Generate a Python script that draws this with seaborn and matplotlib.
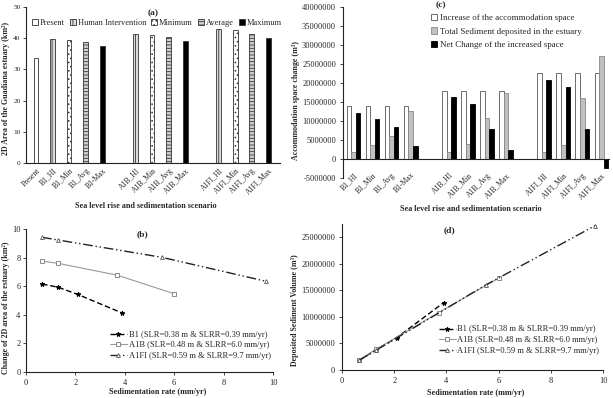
import numpy as np
import pandas as pd
import matplotlib
matplotlib.use("Agg")
import matplotlib.pyplot as plt
import seaborn as sns
from matplotlib.patches import Patch
from matplotlib.ticker import StrMethodFormatter

# ---------------- data ----------------
a_labels = ["Present", "B1_HI", "B1_Min", "B1_Avg", "B1-Max",
            "A1B_HI", "A1B_Min", "A1B_Avg", "A1B_Max",
            "A1FI_HI", "A1FI_Min", "A1FI_Avg", "A1FI_Max"]
a_area = [33.5, 39.7, 39.4, 38.9, 37.5,
          41.2, 41.0, 40.3, 39.0,
          42.9, 42.7, 41.5, 40.0]
a_type = ["Present", "Human Intervention", "Minimum", "Average", "Maximum",
          "Human Intervention", "Minimum", "Average", "Maximum",
          "Human Intervention", "Minimum", "Average", "Maximum"]
a_types = ["Present", "Human Intervention", "Minimum", "Average", "Maximum"]
a_order = a_labels[:5] + [" "] + a_labels[5:9] + ["  "] + a_labels[9:]

c_labels = ["B1_HI", "B1_Min", "B1_Avg", "B1-Max",
            "A1B_HI", "A1B_Min", "A1B_Avg", "A1B_Max",
            "A1FI_HI", "A1FI_Min", "A1FI_Avg", "A1FI_Max"]
c_order = c_labels[:4] + [" "] + c_labels[4:8] + ["  "] + c_labels[8:]
c_measures = ["Increase of the accommodation space",
              "Total Sediment deposited in the estuary",
              "Net Change of the increased space"]
c_increase = [13900000, 13900000, 13900000, 13900000,
              17800000, 17800000, 17800000, 17800000,
              22600000, 22600000, 22600000, 22600000]
c_sediment = [1800000, 3800000, 6100000, 12700000,
              1900000, 3900000, 10800000, 17300000,
              1800000, 3700000, 16000000, 27200000]
c_net = [12200000, 10500000, 8400000, 3500000,
         16200000, 14500000, 7900000, 2300000,
         20800000, 19000000, 7800000, -2400000]

series_names = ["B1 (SLR=0.38 m & SLRR=0.39 mm/yr)",
                "A1B (SLR=0.48 m & SLRR=6.0 mm/yr)",
                "A1FI (SLR=0.59 m & SLRR=9.7 mm/yr)"]
rate_B1 = [0.65, 1.3, 2.1, 3.9]
rate_A1B = [0.65, 1.3, 3.7, 6.0]
rate_A1FI = [0.65, 1.3, 5.5, 9.7]
area_B1 = [6.15, 5.93, 5.42, 4.12]
area_A1B = [7.75, 7.60, 6.77, 5.47]
area_A1FI = [9.42, 9.23, 8.02, 6.35]
vol_B1 = [1800000, 3800000, 6100000, 12700000]
vol_A1B = [1900000, 3900000, 10800000, 17300000]
vol_A1FI = [1800000, 3700000, 16000000, 27200000]

# ---------------- style ----------------
sns.set_theme(style="ticks")
plt.rcParams["font.family"] = ["Liberation Serif", "DejaVu Serif"]
plt.rcParams["axes.unicode_minus"] = False
plt.rcParams["hatch.linewidth"] = 0.6
plt.rcParams["axes.linewidth"] = 0.8
plt.rcParams["axes.edgecolor"] = "#222222"

TS = 6.0    # tick size
LS = 5.9    # axis title size

W, H = 613, 398
fig = plt.figure(figsize=(W / 100, H / 100), dpi=100)


def box(l, r, t, b):
    return [l / W, (H - b) / H, (r - l) / W, (b - t) / H]


axA = fig.add_axes(box(26, 280, 7, 163))
axC = fig.add_axes(box(343, 610, 7, 178))
axB = fig.add_axes(box(26, 273, 229, 372))
axD = fig.add_axes(box(342, 603, 224, 370))

for ax in (axA, axB, axC, axD):
    sns.despine(ax=ax)
    ax.tick_params(labelsize=TS, length=2.5, width=0.6, direction="out", pad=2.5)
axA.tick_params(axis="y", labelsize=5.3, length=2, pad=2)
axB.tick_params(axis="y", length=2, pad=2)

# ---------------- panel (a) ----------------
type_fc = {"Present": "white", "Human Intervention": "#dcdcdc",
           "Minimum": "white", "Average": "#d0d0d0", "Maximum": "black"}
type_hatch = {"Present": "", "Human Intervention": "||||",
              "Minimum": "....", "Average": "-----", "Maximum": ""}
df_a = pd.DataFrame({"scenario": a_labels, "area": a_area, "type": a_type})
sns.barplot(data=df_a, x="scenario", y="area", order=a_order, hue="type",
            hue_order=a_types, palette=[type_fc[t] for t in a_types],
            dodge=False, width=0.28, ax=axA, legend=False,
            edgecolor="#333333", linewidth=0.6, saturation=1)
lab2type = dict(zip(a_labels, a_type))
for p in axA.patches:
    idx = int(round(p.get_x() + p.get_width() / 2))
    if 0 <= idx < len(a_order) and a_order[idx] in lab2type:
        p.set_hatch(type_hatch[lab2type[a_order[idx]]])
axA.set_ylim(0, 50)
axA.set_yticks(range(0, 51, 10))
axA.set_xlim(-0.6, 14.7)
axA.set_xticks(range(len(a_order)))
axA.set_xticklabels(a_order, rotation=45, ha="right", rotation_mode="anchor",
                    fontsize=5.5)
axA.tick_params(axis="x", length=0, pad=2.5)
axA.set_xlabel("")
axA.set_ylabel("")
axA.text(0.5, 0.985, "(a)", transform=axA.transAxes, ha="center", va="top",
         fontsize=6.8, fontweight="bold")
hA = [Patch(facecolor=type_fc[t], edgecolor="#333333", hatch=type_hatch[t],
            linewidth=0.6) for t in a_types]
axA.legend(hA, a_types, loc="center", bbox_to_anchor=(0.515, 0.9), ncol=5,
           frameon=False, fontsize=6.0, handlelength=0.7, handleheight=0.7,
           handletextpad=0.25, columnspacing=0.6, borderpad=0, borderaxespad=0)

# ---------------- panel (c) ----------------
df_c = pd.DataFrame({
    "scenario": c_labels * 3,
    "value": c_increase + c_sediment + c_net,
    "measure": [c_measures[0]] * len(c_labels) + [c_measures[1]] * len(c_labels)
    + [c_measures[2]] * len(c_labels)})
c_fc = ["white", "#c0c0c0", "black"]
c_ec = ["#555555", "#8a8a8a", "black"]
sns.barplot(data=df_c, x="scenario", y="value", order=c_order, hue="measure",
            hue_order=c_measures, palette=c_fc, dodge=True, width=0.72,
            ax=axC, legend=False, linewidth=0.6, edgecolor="#555555",
            saturation=1)
for cont, ec in zip(axC.containers, c_ec):
    for p in cont:
        p.set_edgecolor(ec)
axC.set_ylim(-5000000, 40000000)
axC.set_yticks(range(-5000000, 40000001, 5000000))
axC.yaxis.set_major_formatter(StrMethodFormatter("{x:.0f}"))
axC.set_xlim(-0.55, 13.45)
axC.set_xticks(range(len(c_order)))
axC.set_xticklabels(c_order, rotation=45, ha="right", rotation_mode="anchor",
                    fontsize=5.5)
axC.tick_params(axis="x", length=0, pad=-5)
axC.spines["bottom"].set_visible(False)
axC.axhline(0, color="#222222", lw=0.8)
axC.set_xlabel("")
axC.set_ylabel("")
axC.text(0.365, 1.01, "(c)", transform=axC.transAxes, ha="center", va="center",
         fontsize=6.8, fontweight="bold")
hC = [Patch(facecolor=f, edgecolor=e, linewidth=0.6) for f, e in zip(c_fc, c_ec)]
axC.legend(hC, c_measures, loc="upper left", bbox_to_anchor=(0.33, 0.96),
           frameon=False, fontsize=6.4, handlelength=0.7, handleheight=0.7,
           handletextpad=0.3, labelspacing=0.6, borderpad=0, borderaxespad=0)

# ---------------- panels (b) and (d) ----------------
line_styles = [
    dict(color="black", linestyle=(0, (4, 2)), lw=1.0, marker="*", markersize=3.3,
         markerfacecolor="black", markeredgecolor="black"),
    dict(color="#9a9a9a", linestyle="-", lw=0.8, marker="s", markersize=2.6,
         markerfacecolor="white", markeredgecolor="#777777", markeredgewidth=0.6),
    dict(color="#222222", linestyle=(0, (7, 2, 1, 2, 1, 2)), lw=1.0, marker="^",
         markersize=2.8, markerfacecolor="white", markeredgecolor="#555555",
         markeredgewidth=0.6),
]
b_rates = [rate_B1, rate_A1B, rate_A1FI]
b_areas = [area_B1, area_A1B, area_A1FI]
d_vols = [vol_B1, vol_A1B, vol_A1FI]
for r, a, v, st, nm in zip(b_rates, b_areas, d_vols, line_styles, series_names):
    sns.lineplot(x=r, y=a, ax=axB, label=nm, **st)
    sns.lineplot(x=r, y=v, ax=axD, label=nm, **st)

axB.set_xlim(0, 10)
axB.set_ylim(0, 10)
axB.set_xticks(range(0, 11, 2))
axB.set_yticks(range(0, 11, 2))
axD.set_xlim(0, 10)
axD.set_ylim(0, 27500000)
axD.set_xticks(range(0, 11, 2))
axD.set_yticks(range(0, 25000001, 5000000))
axD.yaxis.set_major_formatter(StrMethodFormatter("{x:.0f}"))
for ax in (axB, axD):
    ax.set_xlabel("")
    ax.set_ylabel("")
axB.legend(loc="upper left", bbox_to_anchor=(0.34, 0.29), frameon=False,
           fontsize=6.1, handlelength=2.0, handletextpad=0.2,
           labelspacing=0.3, borderpad=0, borderaxespad=0)
axD.legend(loc="upper left", bbox_to_anchor=(0.37, 0.305), frameon=False,
           fontsize=6.1, handlelength=2.0, handletextpad=0.2,
           labelspacing=0.3, borderpad=0, borderaxespad=0)
axB.text(0.47, 0.99, "(b)", transform=axB.transAxes, ha="center", va="top",
         fontsize=6.8, fontweight="bold")
axD.text(0.41, 0.985, "(d)", transform=axD.transAxes, ha="center", va="top",
         fontsize=6.8, fontweight="bold")

# ---------------- axis titles ----------------
bold = dict(fontsize=LS, fontweight="bold")
yl = dict(fontsize=5.7, fontweight="bold")
fig.text(6.5 / W, 1 - 88 / H, "2D Area of the Guadiana estuary (km²)",
         rotation=90, ha="center", va="center", **yl)
fig.text(296 / W, 1 - 100 / H, "Accommodation space change (m³)",
         rotation=90, ha="center", va="center", **yl)
fig.text(6.5 / W, 1 - 308 / H, "Change of 2D area of the estuary (km²)",
         rotation=90, ha="center", va="center", **yl)
fig.text(295 / W, 1 - 310 / H, "Deposited Sediment Volume (m³)",
         rotation=90, ha="center", va="center", **yl)
fig.text(146 / W, 1 - 206 / H, "Sea level rise and sedimentation scenario",
         ha="center", va="center", **bold)
fig.text(471 / W, 1 - 209 / H, "Sea level rise and sedimentation scenario",
         ha="center", va="center", **bold)
fig.text(158 / W, 1 - 392 / H, "Sedimentation rate (mm/yr)",
         ha="center", va="center", **bold)
fig.text(476 / W, 1 - 393 / H, "Sedimentation rate (mm/yr)",
         ha="center", va="center", **bold)

fig.savefig("out.png", dpi=100, facecolor="white")
